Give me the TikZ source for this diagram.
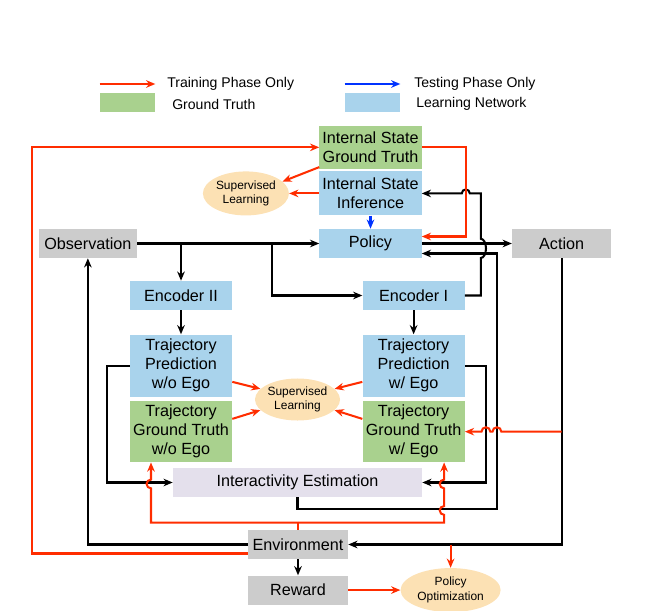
\documentclass[tikz,border=0pt]{standalone}
\usepackage{fontspec}
\setmainfont{Liberation Sans}
\usetikzlibrary{positioning,arrows.meta,calc,shapes.geometric}
\definecolor{TrainRed}{RGB}{255,45,0}
\definecolor{TestBlue}{RGB}{0,51,255}
\definecolor{TruthGreen}{RGB}{169,209,142}
\definecolor{NetBlue}{RGB}{169,211,236}
\definecolor{EnvGray}{RGB}{204,204,204}
\definecolor{EstLilac}{RGB}{228,224,236}
\definecolor{LossPeach}{RGB}{252,225,180}
\newcommand{\diagfont}{\fontsize{11.5}{13.5}\selectfont}
\newcommand{\ovalfont}{\fontsize{8.5}{10.5}\selectfont}
\newcommand{\keyfont}{\fontsize{10}{12}\selectfont}
\tikzset{
  flow/.style={-{Stealth[length=2.3mm,width=1.9mm]},line width=1.45pt,draw=black},
  trainflow/.style={-{Stealth[length=2.3mm,width=1.9mm]},line width=1.45pt,draw=TrainRed},
  trainline/.style={line width=1.45pt,draw=TrainRed},
  testflow/.style={-{Stealth[length=2.3mm,width=1.9mm]},line width=1.45pt,draw=TestBlue},
  box/.style={fill=NetBlue,minimum width=2.55cm,minimum height=0.725cm,
    inner sep=1pt,align=center,font=\diagfont},
  truthbox/.style={box,fill=TruthGreen},
  envbox/.style={box,fill=EnvGray,minimum width=2.5cm},
  lossoval/.style={ellipse,fill=LossPeach,inner sep=0pt,align=center,font=\ovalfont},
  keytext/.style={anchor=west,inner sep=0pt,font=\keyfont}
}

\begin{document}
\begin{tikzpicture}[x=0.025cm,y=-0.025cm]
  \useasboundingbox (0,0) rectangle (671,611);

  % legend
  \node[keytext] (keytrain) at (167,84) {Training Phase Only};
  \node[keytext] (keytest) at (414,84) {Testing Phase Only};
  \node[truthbox,minimum width=1.375cm,minimum height=0.475cm] (keytruth) at (127.5,102.5) {};
  \node[keytext] (keytruthtext) at (172,104) {Ground Truth};
  \node[box,minimum width=1.375cm,minimum height=0.475cm] (keynet) at (372.5,102.5) {};
  \node[keytext] (keynettext) at (416,104) {Learning Network};
  \draw[trainflow] (keytruth.west |- keytrain.west) -- (keytruth.east |- keytrain.west);
  \draw[testflow] (keynet.west |- keytest.west) -- (keynet.east |- keytest.west);

  % nodes
  \node[box] (policy) at (370.5,243.5) {Policy};
  \node[box,above=0.325cm of policy,minimum height=1.1cm] (stateinf) {Internal State\\Inference};
  \node[truthbox,above=0.05cm of stateinf,minimum height=1.075cm] (stategt) {Internal State\\Ground Truth};
  \node[envbox,left=4.55cm of policy,minimum width=2.45cm] (observation) {Observation};
  \node[envbox,right=2.25cm of policy,minimum width=2.475cm] (action) {Action};
  \node[lossoval,left=0.75cm of stateinf,minimum width=2.15cm,minimum height=1.1cm] (suptop) {Supervised\\Learning};

  \node[box] (encoderII) at (181,295.5) {Encoder II};
  \node[box,right=3.25cm of encoderII] (encoderI) {Encoder I};
  \node[box,below=0.6cm of encoderII,minimum height=1.55cm] (predwo) {Trajectory\\Prediction\\w/o Ego};
  \node[truthbox,below=0.1cm of predwo,minimum height=1.525cm] (truthwo) {Trajectory\\Ground Truth\\w/o Ego};
  \node[box,below=0.6cm of encoderI,minimum height=1.55cm] (predw) {Trajectory\\Prediction\\w/ Ego};
  \node[truthbox,below=0.1cm of predw,minimum height=1.525cm] (truthw) {Trajectory\\Ground Truth\\w/ Ego};
  \node[lossoval,minimum width=2.125cm,minimum height=1.05cm] (supmid) at (297.5,399.5) {Supervised\\Learning};
  \node[box,fill=EstLilac,minimum width=6.225cm] (interact) at (297.5,482.5) {Interactivity Estimation};

  \node[envbox] (environment) at (298,544.5) {Environment};
  \node[envbox,below=0.4cm of environment] (reward) {Reward};
  \node[lossoval,right=1.3cm of reward,minimum width=2.5cm,minimum height=1.1cm] (policyopt) {Policy\\Optimization};

  \coordinate (obsfork) at ($(observation.east)!0.741!(policy.west)$);

  % black links
  \draw[flow] (observation) -- (policy);
  \draw[flow] (encoderII |- observation.east) -- (encoderII);
  \draw[flow] (obsfork) |- (encoderI);
  \draw[flow] (encoderII) -- (predwo);
  \draw[flow] (encoderI) -- (predw);
  \draw[flow] (policy) -- (action);
  \draw[flow] (encoderI.east) -| ($(policy.east)+(59,14.5)$)
    arc[start angle=-90,end angle=90,x radius=0.13cm,y radius=0.24cm]
    |- ($(stateinf.east)+(48,0)$) arc[start angle=0,end angle=180,radius=0.1cm] -- (stateinf.east);
  \draw[flow] (predw.east) -| ($(interact.east)+(64,0)$) -- (interact.east);
  \draw[flow] (interact.south) |- ($(interact.east)+(75,26.5)$) |- ($(policy.east)+(0,10)$);
  \draw[flow] (predwo.west) -| ($(interact.west)+(-66,0)$) -- (interact.west);
  \draw[flow] (action) |- (environment);
  \draw[flow] (environment) -| (observation);
  \draw[flow] (environment) -- (reward);

  % red links
  \draw[trainflow] ($(environment.west)+(0,9)$) -| ($(stategt.west)+(-287,0)$) -- (stategt.west);
  \draw[trainline] (environment.north) -- ++(0,-7) coordinate (envtop);
  \draw[trainflow] (envtop) -| ($(truthwo.south)+(-30,25.9)$)
    arc[start angle=-90,end angle=-270,radius=0.11cm] -- ($(truthwo.south)+(-30,0)$);
  \draw[trainflow] (envtop) -| ($(truthw.south)+(30.5,52.4)$)
    arc[start angle=-90,end angle=-270,radius=0.11cm] -- ($(truthw.south)+(30.5,25.9)$)
    arc[start angle=-90,end angle=-270,radius=0.11cm] -- ($(truthw.south)+(30.5,0)$);
  \draw[trainflow] (action.south |- truthw.east) -- ($(truthw.east)+(36.4,0)$)
    arc[start angle=0,end angle=180,radius=0.11cm] -- ($(truthw.east)+(25.4,0)$)
    arc[start angle=0,end angle=180,radius=0.11cm] -- (truthw.east);
  \draw[trainflow] (policyopt.north |- environment.east) -- (policyopt.north);
  \draw[trainflow] (reward) -- (policyopt);
  \draw[trainflow] (stategt.east) -- ++(44,0) |- ($(policy.east)+(0,-7)$);
  \draw[trainflow] ($(stategt.south west)+(0,-2)$) -- (suptop.18);
  \draw[trainflow] (stateinf.west) -- (suptop.east);
  \draw[trainflow] ($(predwo.south east)+(0,-15)$) -- (supmid.164);
  \draw[trainflow] ($(truthwo.north east)+(0,18)$) -- (supmid.196);
  \draw[trainflow] ($(predw.south west)+(0,-15)$) -- (supmid.16);
  \draw[trainflow] ($(truthw.north west)+(0,18)$) -- (supmid.-16);

  % blue link
  \draw[testflow] (stateinf) -- (policy);
\end{tikzpicture}
\end{document}
